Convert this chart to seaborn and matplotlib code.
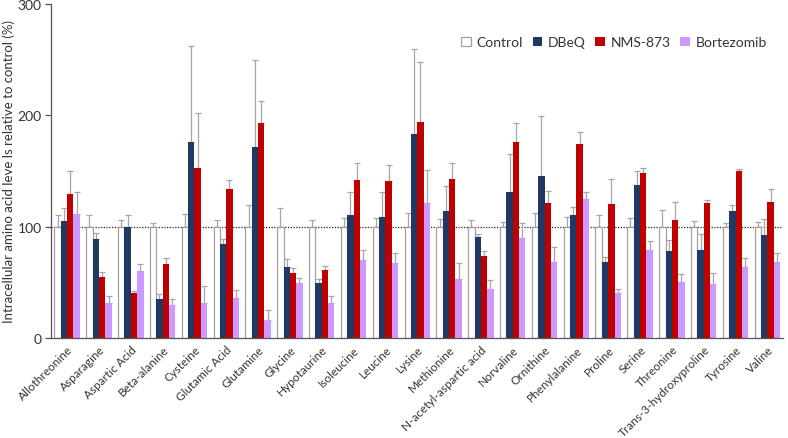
import matplotlib
matplotlib.use("Agg")
import matplotlib.pyplot as plt
import numpy as np
import pandas as pd
import seaborn as sns
from matplotlib.ticker import FixedLocator

# -------------------------- 数据 --------------------------
amino_acids = ["Allothreonine", "Asparagine", "Aspartic Acid", "Beta-alanine", "Cysteine",
               "Glutamic Acid", "Glutamine", "Glycine", "Hypotaurine", "Isoleucine", "Leucine",
               "Lysine", "Methionine", "N-acetyl-aspartic acid", "Norvaline", "Ornithine",
               "Phenylalanine", "Proline", "Serine", "Threonine", "Trans-3-hydroxyproline",
               "Tyrosine", "Valine"]
groups = ["Control", "DBeQ", "NMS-873", "Bortezomib"]

control = [100] * 23
control_err = [10, 10, 6, 3, 11, 6, 19, 17, 6, 8, 8, 12, 7, 6, 4, 12, 9, 10, 8, 15, 5, 3, 4]

dbeq = [105, 89, 100, 35, 176, 84, 171, 64, 49, 110, 109, 183, 114, 91, 131, 145, 110, 68, 137, 78, 79, 114, 92]
dbeq_top = [117, 94, 110, 39, 262, 89, 250, 71, 53, 131, 131, 259, 136, 93, 165, 199, 118, 73, 150, 88, 93, 119, 107]

nms = [129, 55, 40, 66, 153, 134, 193, 58, 61, 142, 141, 194, 143, 74, 176, 121, 174, 120, 148, 106, 121, 150, 122]
nms_top = [150, 59, 42, 72, 202, 142, 213, 63, 65, 157, 155, 248, 157, 78, 193, 132, 185, 143, 153, 122, 124, 152, 134]

bort = [111, 31, 60, 30, 31, 36, 16, 49, 31, 70, 67, 121, 53, 44, 90, 68, 125, 40, 79, 50, 48, 64, 68]
bort_top = [131, 38, 66, 35, 47, 43, 25, 54, 38, 79, 76, 151, 67, 52, 103, 82, 131, 44, 87, 57, 58, 72, 76]

colors = ["#FFFFFF", "#1F3864", "#C00000", "#CC99FF"]

# -------------------------- 长表 --------------------------
values = {"Control": control, "DBeQ": dbeq, "NMS-873": nms, "Bortezomib": bort}
errs = {"Control": control_err,
        "DBeQ": list(np.array(dbeq_top) - np.array(dbeq)),
        "NMS-873": list(np.array(nms_top) - np.array(nms)),
        "Bortezomib": list(np.array(bort_top) - np.array(bort))}
rows = []
for g in groups:
    for a, v in zip(amino_acids, values[g]):
        rows.append({"amino": a, "group": g, "value": v})
df = pd.DataFrame(rows)

# -------------------------- 绘图 --------------------------
sns.set_style("white")
plt.rcParams['font.family'] = ['Lato', 'DejaVu Sans']

fig, ax = plt.subplots(figsize=(7.88, 4.39), dpi=100)
fig.subplots_adjust(left=0.065, right=0.994, top=0.989, bottom=0.228)

sns.barplot(data=df, x="amino", y="value", hue="group", hue_order=groups,
            palette=colors, errorbar=None, width=0.8, saturation=1,
            linewidth=0, ax=ax, zorder=2)

for g, cont in zip(groups, ax.containers):
    xs = [b.get_x() + b.get_width() / 2 for b in cont]
    hs = [b.get_height() for b in cont]
    if g == "Control":
        for b in cont:
            b.set_edgecolor("#A0A0A0")
            b.set_linewidth(0.9)
    ax.errorbar(xs, hs, yerr=[np.zeros(len(hs)), errs[g]], fmt="none",
                ecolor="#A6A6A6", elinewidth=0.9, capsize=2, capthick=0.9, zorder=1.5)

ax.axhline(100, color="#222222", ls=(0, (1, 1.2)), lw=0.9, zorder=1)

ax.set_ylim(0, 300)
ax.set_xlim(-0.5, len(amino_acids) - 0.5)
ax.set_yticks([0, 100, 200, 300])
ax.tick_params(axis="y", direction="out", length=4, width=0.9, color="#555555",
               labelsize=10, labelcolor="#333333", left=True, pad=3)
ax.set_xticks(range(len(amino_acids)))
ax.set_xticklabels(amino_acids, rotation=45, ha="right", rotation_mode="anchor",
                   fontsize=8.5, color="#333333")
ax.tick_params(axis="x", length=0, pad=4)
ax.xaxis.set_minor_locator(FixedLocator(np.arange(-0.5, len(amino_acids), 1)))
ax.tick_params(axis="x", which="minor", direction="out", length=4, width=0.9, color="#555555")

ax.set_xlabel("")
ax.set_ylabel("Intracellular amino acid leve ls relative to control (%)", fontsize=9.5,
              color="#333333", labelpad=2)

for s in ["top", "right"]:
    ax.spines[s].set_visible(False)
for s in ["left", "bottom"]:
    ax.spines[s].set_color("#555555")
    ax.spines[s].set_linewidth(0.9)

ax.legend(handles=list(ax.containers), labels=groups, loc="center right",
          bbox_to_anchor=(0.995, 0.885), ncol=4, frameon=False, fontsize=10,
          handlelength=0.7, handleheight=0.7, handletextpad=0.4, columnspacing=0.7,
          labelcolor="#333333")

plt.savefig("out.png", dpi=100)
